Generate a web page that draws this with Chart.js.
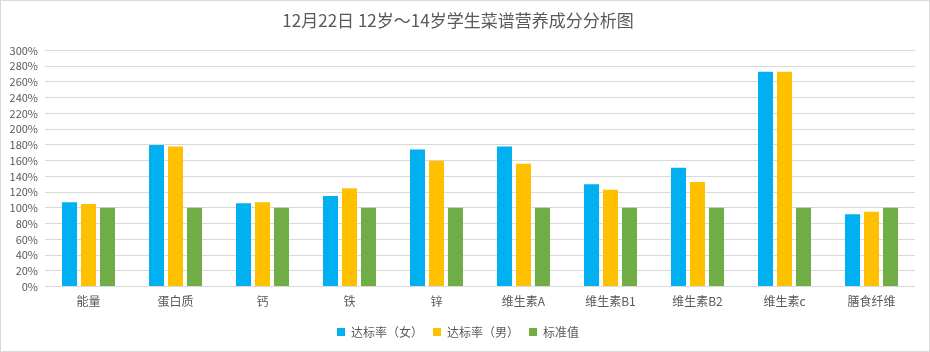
<!DOCTYPE html>
<html>
<head>
<meta charset="utf-8">
<script src="https://cdn.jsdelivr.net/npm/chart.js@4"></script>
<style>
  body { margin: 0; background: #fff; }
  #wrap { width: 930px; height: 352px; box-sizing: border-box; border: 1px solid #d9d9d9; }
</style>
</head>
<body>
<div id="wrap"><canvas id="nutriChart" width="928" height="350"></canvas></div>
<script>
var categories = ["能量", "蛋白质", "钙", "铁", "锌", "维生素A", "维生素B1", "维生素B2", "维生素c", "膳食纤维"];
var girls = [107, 180, 106, 115, 174, 178, 130, 151, 273, 92];
var boys = [105, 178, 107, 125, 160, 156, 123, 133, 273, 95];
var standard = [100, 100, 100, 100, 100, 100, 100, 100, 100, 100];
var seriesNames = ["达标率（女）", "达标率（男）", "标准值"];

var font = "'Noto Sans CJK SC', 'Noto Sans', sans-serif";

new Chart('nutriChart', {
    type: 'bar',
    data: {
        labels: categories,
        datasets: [
            { label: seriesNames[0], data: girls, backgroundColor: "#00B0F0" },
            { label: seriesNames[1], data: boys, backgroundColor: "#FFC000" },
            { label: seriesNames[2], data: standard, backgroundColor: "#70AD47" }
        ]
    },
    options: {
        responsive: false,
        animation: false,
        categoryPercentage: 0.655,
        barPercentage: 0.79,
        layout: {
            padding: { left: 0, right: 14, top: 0, bottom: 3 }
        },
        scales: {
            x: {
                afterFit: function (axis) { axis.height += 7; },
                grid: { display: false },
                border: { display: false },
                ticks: { color: "#595959", font: { family: font, size: 12 }, padding: 0, autoSkip: false, maxRotation: 0 }
            },
            y: {
                min: 0,
                max: 300,
                afterFit: function (axis) { axis.width = 44; },
                grid: { color: "#d9d9d9", drawTicks: false },
                border: { display: false },
                ticks: {
                    stepSize: 20,
                    autoSkip: false,
                    padding: 7,
                    color: "#595959",
                    font: { family: font, size: 11 },
                    callback: function (v) { return v + '%'; }
                }
            }
        },
        plugins: {
            title: {
                display: true,
                text: "12月22日 12岁～14岁学生菜谱营养成分分析图",
                color: "#595959",
                font: { family: font, size: 17, weight: 'normal' },
                padding: { top: 9, bottom: 20 }
            },
            legend: {
                position: 'bottom',
                labels: {
                    boxWidth: 8,
                    boxHeight: 8,
                    padding: 10,
                    color: "#595959",
                    font: { family: font, size: 12 }
                }
            },
            tooltip: { enabled: false }
        }
    }
});
</script>
</body>
</html>
